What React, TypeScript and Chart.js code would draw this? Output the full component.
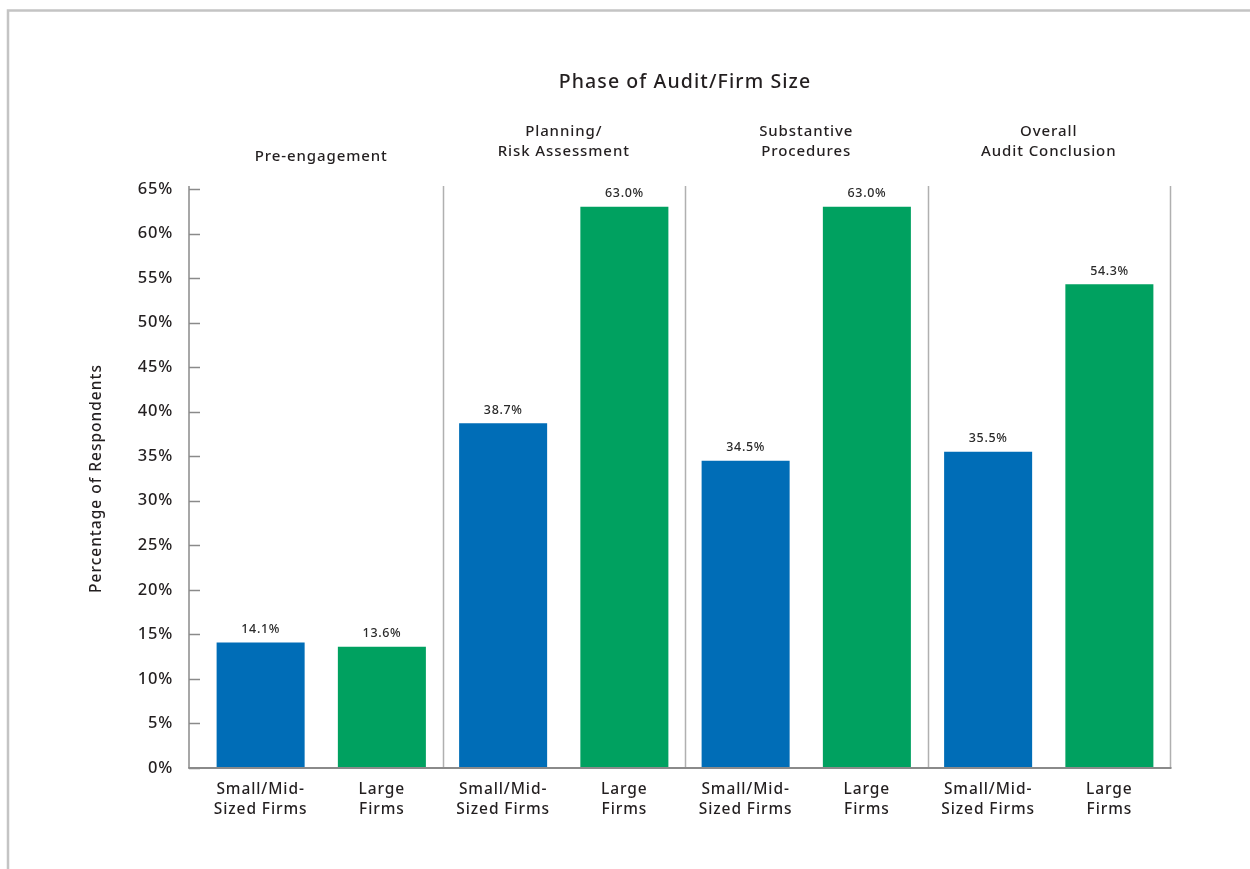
import React, { useEffect, useRef } from "react";
import { Chart, registerables } from "chart.js";

Chart.register(...registerables);

// Audit phases (group headings, one or two lines each)
const phases: string[][] = [
  ["Pre-engagement"],
  ["Planning/", "Risk Assessment"],
  ["Substantive", "Procedures"],
  ["Overall", "Audit Conclusion"],
];

// Percentage of respondents per firm size
const smallMidValues = [14.1, 38.7, 34.5, 35.5];
const largeValues = [13.6, 63.0, 63.0, 54.3];

// Labels printed beneath each bar of a group
const firmSizeLabels: string[][] = [
  ["Small/Mid-", "Sized Firms"],
  ["Large", "Firms"],
];

// Y axis tick values (percent)
const yTicks = [0, 5, 10, 15, 20, 25, 30, 35, 40, 45, 50, 55, 60, 65];

const chartTitle = "Phase of Audit/Firm Size";
const yAxisTitle = "Percentage of Respondents";

const BLUE = "#006DB7";
const GREEN = "#00A160";
const TEXT = "#231f20";
const FONT = "'Noto Sans', 'Open Sans', sans-serif";

function setFont(ctx: CanvasRenderingContext2D, size: number, spacing: number) {
  ctx.font = `500 ${size}px ${FONT}`;
  (ctx as any).letterSpacing = `${spacing}px`;
}

const decorations = {
  id: "decorations",
  beforeDraw(chart: any) {
    const ctx = chart.ctx as CanvasRenderingContext2D;
    ctx.save();
    // outer frame (top and left edges)
    ctx.strokeStyle = "#c4c4c4";
    ctx.lineWidth = 2.5;
    ctx.beginPath();
    ctx.moveTo(1250, 10.5);
    ctx.lineTo(8, 10.5);
    ctx.lineTo(8, 869);
    ctx.stroke();
    ctx.restore();
  },
  afterDatasetsDraw(chart: any) {
    const ctx = chart.ctx as CanvasRenderingContext2D;
    const { left, right, top, bottom } = chart.chartArea;
    const xScale = chart.scales.x;
    const yScale = chart.scales.y;
    const axisX = left - 11;
    ctx.save();

    // group separators and right edge
    const band = (right - left) / phases.length;
    ctx.strokeStyle = "#b0b0b0";
    ctx.lineWidth = 1.5;
    for (let i = 1; i <= phases.length; i++) {
      const x = Math.round(xScale.getPixelForValue(i - 1) + band / 2) + 0.5;
      ctx.beginPath();
      ctx.moveTo(x, top - 3);
      ctx.lineTo(x, bottom);
      ctx.stroke();
    }

    // y axis line with inward tick marks
    ctx.strokeStyle = "#8a8a8a";
    ctx.lineWidth = 1.5;
    ctx.beginPath();
    ctx.moveTo(axisX, top - 3);
    ctx.lineTo(axisX, bottom);
    yTicks.forEach((v) => {
      const y = Math.round(yScale.getPixelForValue(v)) + 0.5;
      ctx.moveTo(axisX, y);
      ctx.lineTo(left, y);
    });
    ctx.stroke();

    // baseline
    ctx.lineWidth = 2;
    ctx.beginPath();
    ctx.moveTo(axisX - 0.75, bottom);
    ctx.lineTo(right + 1.5, bottom);
    ctx.stroke();

    ctx.fillStyle = TEXT;
    ctx.textBaseline = "middle";

    // y tick labels
    ctx.textAlign = "right";
    setFont(ctx, 16.5, 0.8);
    yTicks.forEach((v) => {
      ctx.fillText(`${v}%`, axisX - 16, yScale.getPixelForValue(v));
    });

    ctx.textAlign = "center";

    // chart title
    setFont(ctx, 19.5, 1.1);
    ctx.fillText(chartTitle, (left + right) / 2, 82);

    // group headings
    setFont(ctx, 15, 0.9);
    phases.forEach((lines, i) => {
      const cx = xScale.getPixelForValue(i);
      if (lines.length === 1) {
        ctx.fillText(lines[0], cx, 157);
      } else {
        lines.forEach((t, k) => ctx.fillText(t, cx, 132 + k * 20));
      }
    });

    // bar value labels and firm-size labels
    chart.data.datasets.forEach((ds: any, di: number) => {
      const meta = chart.getDatasetMeta(di);
      meta.data.forEach((bar: any, i: number) => {
        const v = ds.data[i] as number;
        setFont(ctx, 12.5, 0.6);
        ctx.fillStyle = "#2b2b2b";
        ctx.fillText(v.toFixed(1) + "%", bar.x, bar.y - 13);
        setFont(ctx, 15.5, 0.9);
        ctx.fillStyle = TEXT;
        firmSizeLabels[di].forEach((t, k) => ctx.fillText(t, bar.x, bottom + 22 + k * 20));
      });
    });

    // y axis title
    ctx.translate(97, (top + bottom) / 2);
    ctx.rotate(-Math.PI / 2);
    setFont(ctx, 15.5, 1);
    ctx.fillText(yAxisTitle, 0, 0);

    ctx.restore();
  },
};

function BarChart() {
  const ref = useRef<HTMLCanvasElement | null>(null);
  useEffect(() => {
    if (!ref.current) return;
    const chart = new Chart(ref.current, {
      type: "bar",
      data: {
        labels: phases.map((p) => p.join(" ")),
        datasets: [
          { label: "Small/Mid-Sized Firms", data: smallMidValues, backgroundColor: BLUE },
          { label: "Large Firms", data: largeValues, backgroundColor: GREEN },
        ],
      },
      options: {
        animation: false,
        responsive: false,
        maintainAspectRatio: false,
        layout: { padding: { left: 200, right: 80, top: 189, bottom: 101 } },
        plugins: {
          legend: { display: false },
          tooltip: { enabled: false },
          title: { display: false },
        },
        datasets: { bar: { categoryPercentage: 1, barPercentage: 0.726 } },
        scales: {
          x: { display: false },
          y: {
            display: false,
            min: 0,
            max: yTicks[yTicks.length - 1],
          },
        },
      },
      plugins: [decorations],
    });
    return () => chart.destroy();
  }, []);
  return <canvas ref={ref} width={1250} height={869} style={{ display: "block" }} />;
}

export default function App() {
  return (
    <div style={{ position: "absolute", left: 0, top: 0, width: 1250, height: 869, background: "#fff" }}>
      <BarChart />
    </div>
  );
}
